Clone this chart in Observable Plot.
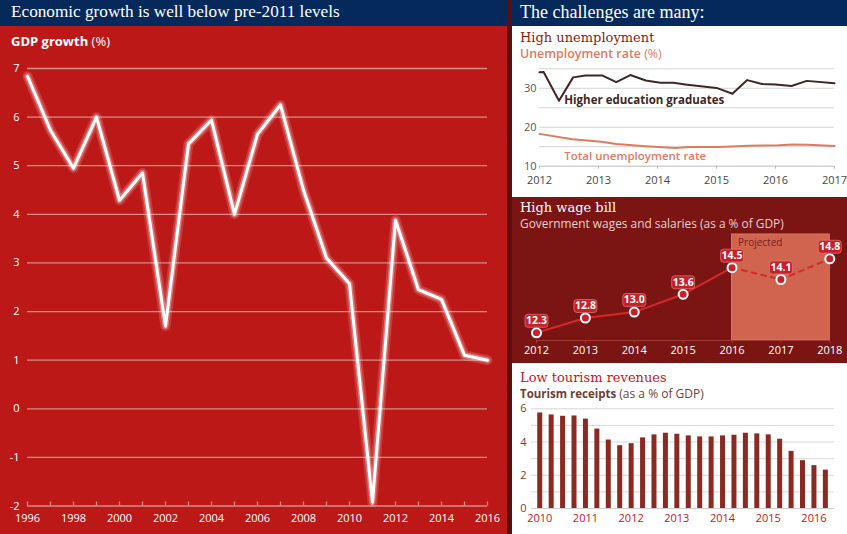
<!DOCTYPE html>
<html><head><meta charset="utf-8">
<script src="https://cdn.jsdelivr.net/npm/d3@7"></script>
<script src="https://cdn.jsdelivr.net/npm/@observablehq/plot@0.6"></script>
<style>
html,body{margin:0;padding:0;}
body{width:847px;height:534px;position:relative;overflow:hidden;background:#fff;font-family:"Open Sans",sans-serif;}
.abs{position:absolute;white-space:nowrap;line-height:1;}
.box{position:absolute;}
.hdr{font-family:"Liberation Serif",serif;font-size:18px;color:#fff;}
.ttl{font-family:"DejaVu Serif",serif;font-size:13px;}
.sub{font-size:12px;}
svg{overflow:visible;}
</style></head><body>
<div class="box" style="left:0;top:0;width:507px;height:534px;background:#bd1818"></div>
<div class="box" style="left:0;top:0;width:507px;height:26px;background:#04295a"></div>
<div class="box" style="left:507px;top:0;width:5px;height:534px;background:#5a0e0e"></div>
<div class="box" style="left:512px;top:0;width:335px;height:26px;background:#04295a"></div>
<div class="box" style="left:512px;top:26px;width:335px;height:171px;background:#fff"></div>
<div class="box" style="left:512px;top:197px;width:335px;height:166px;background:#7a1513"></div>
<div class="box" style="left:512px;top:363px;width:335px;height:171px;background:#fff"></div>

<div class="abs hdr" style="left:11px;top:3px;font-size:17.2px">Economic growth is well below pre-2011 levels</div>
<div class="abs hdr" style="left:520px;top:3px">The challenges are many:</div>
<div class="abs" style="left:11px;top:34.5px;font-size:13px;color:#fff"><b>GDP growth</b> (%)</div>

<div class="abs ttl" style="left:520px;top:30.8px;color:#8c1c16">High unemployment</div>
<div class="abs sub" style="left:520px;top:47.6px;color:#e07a5f;font-weight:600;font-size:12.4px">Unemployment rate <span style="font-weight:400">(%)</span></div>

<div class="abs ttl" style="left:520px;top:201.4px;color:#fff">High wage bill</div>
<div class="abs sub" style="left:520px;top:217.8px;color:#e4d0d0;font-size:11.9px">Government wages and salaries (as a % of GDP)</div>

<div class="abs ttl" style="left:520px;top:371.4px;color:#c4161c">Low tourism revenues</div>
<div class="abs sub" style="left:520px;top:387.8px;color:#6e3f35;font-size:11.5px"><b>Tourism receipts</b> <span style="font-size:12px">(as a % of GDP)</span></div>

<div id="gdp" class="box" style="left:0;top:26px"></div>
<div id="unemp" class="box" style="left:512px;top:60px"></div>
<div id="wage" class="box" style="left:512px;top:232px"></div>
<div id="tour" class="box" style="left:512px;top:400px"></div>

<script>
// ---------- Data ----------
const gdpYears = [1996,1997,1998,1999,2000,2001,2002,2003,2004,2005,2006,2007,2008,2009,2010,2011,2012,2013,2014,2015,2016];
const gdpValues = [6.84,5.73,4.95,6.0,4.29,4.85,1.7,5.45,5.94,4.0,5.65,6.25,4.5,3.1,2.57,-1.92,3.88,2.45,2.25,1.1,1.0];
const gdpYTicks = [-2,-1,0,1,2,3,4,5,6,7];
const gdpXLabelYears = [1996,1998,2000,2002,2004,2006,2008,2010,2012,2014,2016];

const higherEdT = [2012.0,2012.07,2012.33,2012.57,2012.78,2013.06,2013.30,2013.54,2013.80,2014.05,2014.27,2014.47,2015.0,2015.27,2015.52,2015.77,2016.0,2016.27,2016.53,2017.0];
const higherEdV = [34.1,34.2,26.8,32.8,33.3,33.3,31.6,33.4,32.0,31.4,31.4,31.0,30.1,28.6,32.1,31.1,31.0,30.6,31.9,31.3];
const totalT = [2012.0,2012.56,2013.05,2013.3,2013.8,2014.3,2014.55,2015.05,2015.55,2016.05,2016.3,2016.55,2017.0];
const totalV = [18.3,16.9,16.3,15.7,15.1,14.65,14.95,14.9,15.25,15.4,15.6,15.5,15.2];
const unempYears = [2012,2013,2014,2015,2016,2017];
const unempYTicks = [10,20,30];
const unempGrid = [15,20,25,30,35];
const higherLabel = [{t: 2012.42, v: 26.9, text: "Higher education graduates"}];
const totalLabel = [{t: 2012.42, v: 12.55, text: "Total unemployment rate"}];

const wageYears = [2012,2013,2014,2015,2016,2017,2018];
const wageValues = [12.3,12.8,13.0,13.6,14.5,14.1,14.8];
const projectedFrom = 2016;
const projectedTo = 2018;
const wageYDomain = [12.04, 15.62];

const tourismQuarters = ["2010Q1","2010Q2","2010Q3","2010Q4","2011Q1","2011Q2","2011Q3","2011Q4","2012Q1","2012Q2","2012Q3","2012Q4","2013Q1","2013Q2","2013Q3","2013Q4","2014Q1","2014Q2","2014Q3","2014Q4","2015Q1","2015Q2","2015Q3","2015Q4","2016Q1","2016Q2"];
const tourismValues = [5.75,5.63,5.55,5.57,5.38,4.78,4.12,3.78,3.9,4.25,4.43,4.53,4.47,4.37,4.31,4.31,4.37,4.41,4.53,4.49,4.43,4.17,3.44,2.88,2.58,2.31];
const tourismYears = [2010,2011,2012,2013,2014,2015,2016];
const tourismYTicks = [0,2,4,6];
const tourismGrid = [1,2,3,4,5,6];

// ---------- Tables ----------
const gdp = gdpYears.map((y, i) => ({year: y, value: gdpValues[i]}));
const higherEd = higherEdT.map((t, i) => ({t, v: higherEdV[i]}));
const total = totalT.map((t, i) => ({t, v: totalV[i]}));
const wage = wageYears.map((y, i) => ({year: y, value: wageValues[i]}));
const wageActual = wage.filter(d => d.year <= projectedFrom);
const wageProj = wage.filter(d => d.year >= projectedFrom);
const tourism = tourismQuarters.map((q, i) => ({t: +q.slice(0, 4) + (+q.slice(5) - 1) / 4, value: tourismValues[i]}));

const SANS = "'Open Sans', sans-serif";

// ---------- GDP chart ----------
const gridRed = "#d38e86";
document.getElementById("gdp").append(Plot.plot({
  width: 507, height: 508,
  marginTop: 42, marginBottom: 28.5, marginLeft: 27, marginRight: 20,
  style: {background: "transparent", color: "#fff", fontFamily: SANS, fontSize: "11px", overflow: "visible"},
  x: {domain: [1996, 2016], axis: null},
  y: {domain: [-2, 7], axis: null},
  marks: [
    Plot.gridY(gdpYTicks, {stroke: gridRed, strokeOpacity: 1, strokeWidth: 1.3}),
    Plot.axisY(gdpYTicks, {tickSize: 0, tickPadding: 8, tickFormat: d => String(d), fill: "#fff", label: null}),
    Plot.axisX(gdpYears, {tickSize: -4, tickFormat: () => "", stroke: gridRed, strokeWidth: 1.3, label: null}),
    Plot.axisX(gdpXLabelYears, {tickSize: 0, tickPadding: 8, tickFormat: d => String(d), fill: "#fff", label: null}),
    Plot.line(gdp, {x: "year", y: "value", stroke: "#ffd8d0", strokeOpacity: 0.18, strokeWidth: 10}),
    Plot.line(gdp, {x: "year", y: "value", stroke: "#ffe6e0", strokeOpacity: 0.35, strokeWidth: 6}),
    Plot.line(gdp, {x: "year", y: "value", stroke: "#fff", strokeWidth: 3})
  ]
}));

// ---------- Unemployment chart ----------
document.getElementById("unemp").append(Plot.plot({
  width: 335, height: 137,
  marginTop: 8.3, marginBottom: 31.3, marginLeft: 27, marginRight: 13,
  style: {background: "transparent", color: "#555", fontFamily: SANS, fontSize: "11px", overflow: "visible"},
  x: {domain: [2012, 2017], axis: null},
  y: {domain: [10, 35], axis: null},
  marks: [
    Plot.gridY(unempGrid, {stroke: "#d4d4d4", strokeOpacity: 1}),
    Plot.ruleY([10], {stroke: "#bbb"}),
    Plot.axisY(unempYTicks, {tickSize: 0, tickPadding: 3, fill: "#555", label: null}),
    Plot.axisX(unempYears, {tickSize: 3, tickPadding: 7, tickFormat: d => String(d), stroke: "#bbb", fill: "#444", label: null}),
    Plot.line(total, {x: "t", y: "v", stroke: "#e07a5f", strokeWidth: 2}),
    Plot.line(higherEd, {x: "t", y: "v", stroke: "#3e2724", strokeWidth: 2}),
    Plot.text(higherLabel, {x: "t", y: "v", text: "text", textAnchor: "start", fontSize: 11.5, fontWeight: 700, fill: "#3e2724"}),
    Plot.text(totalLabel, {x: "t", y: "v", text: "text", textAnchor: "start", fontSize: 11.5, fontWeight: 600, fill: "#e07a5f"})
  ]
}));

// ---------- Wage bill chart ----------
const labelBox = {draw(ctx) {
  const w = 11.5, h = 6.5, r = 3;
  ctx.moveTo(-w + r, -h); ctx.lineTo(w - r, -h); ctx.arcTo(w, -h, w, -h + r, r);
  ctx.lineTo(w, h - r); ctx.arcTo(w, h, w - r, h, r);
  ctx.lineTo(-w + r, h); ctx.arcTo(-w, h, -w, h - r, r);
  ctx.lineTo(-w, -h + r); ctx.arcTo(-w, -h, -w + r, -h, r); ctx.closePath();
}};
document.getElementById("wage").append(Plot.plot({
  width: 335, height: 131,
  marginTop: 2, marginBottom: 23, marginLeft: 24, marginRight: 17.7,
  style: {background: "transparent", color: "#fff", fontFamily: SANS, fontSize: "11px", overflow: "visible"},
  x: {domain: [2012, 2018], axis: null},
  y: {domain: wageYDomain, axis: null},
  marks: [
    Plot.rect([{from: projectedFrom, to: projectedTo}], {x1: "from", x2: "to", fill: "#d0644f", stroke: "#dc7a66", strokeWidth: 1}),
    Plot.text([{from: projectedFrom}], {x: "from", frameAnchor: "top", text: () => "Projected", textAnchor: "start", lineAnchor: "top", dx: 6, dy: 4, fill: "#7a1c1c", fontSize: 10}),
    Plot.ruleY([wageYDomain[0]], {stroke: "#a03a36"}),
    Plot.axisX(wageYears, {tickSize: 3, tickPadding: 3, tickFormat: d => String(d), stroke: "#a03a36", fill: "#fff", label: null}),
    Plot.line(wageActual, {x: "year", y: "value", stroke: "#d8282a", strokeWidth: 2}),
    Plot.line(wageProj, {x: "year", y: "value", stroke: "#d8282a", strokeWidth: 2, strokeDasharray: "5,5"}),
    Plot.dot(wage, {x: "year", y: "value", r: 4.5, fill: "#c8202a", stroke: "#fff", strokeWidth: 2}),
    Plot.dot(wage, {x: "year", y: "value", dy: -12, symbol: labelBox, r: 3, fill: "#c8202a", stroke: "#e88a84", strokeWidth: 0.6}),
    Plot.text(wage, {x: "year", y: "value", dy: -12, text: d => d.value.toFixed(1), fill: "#fff", fontWeight: 700, fontSize: 10.5})
  ]
}));

// ---------- Tourism chart ----------
document.getElementById("tour").append(Plot.plot({
  width: 335, height: 134,
  marginTop: 8.3, marginBottom: 26, marginLeft: 19, marginRight: 13,
  style: {background: "transparent", color: "#7a3a30", fontFamily: SANS, fontSize: "11px", overflow: "visible"},
  x: {domain: [2009.82, 2016.45], axis: null},
  y: {domain: [0, 6], axis: null},
  marks: [
    Plot.gridY(tourismGrid, {stroke: "#d8d8d8", strokeOpacity: 1}),
    Plot.ruleY([0], {stroke: "#cfcfcf"}),
    Plot.ruleX(tourism, {x: "t", y1: 0, y2: "value", stroke: "#8b2a22", strokeWidth: 5}),
    Plot.axisY(tourismYTicks, {tickSize: 0, tickPadding: 5, fill: "#7a3a30", label: null}),
    Plot.axisX(tourismYears, {tickSize: 0, tickPadding: 6, tickFormat: d => String(d), fill: "#c4161c", label: null})
  ]
}));
</script>
</body></html>
